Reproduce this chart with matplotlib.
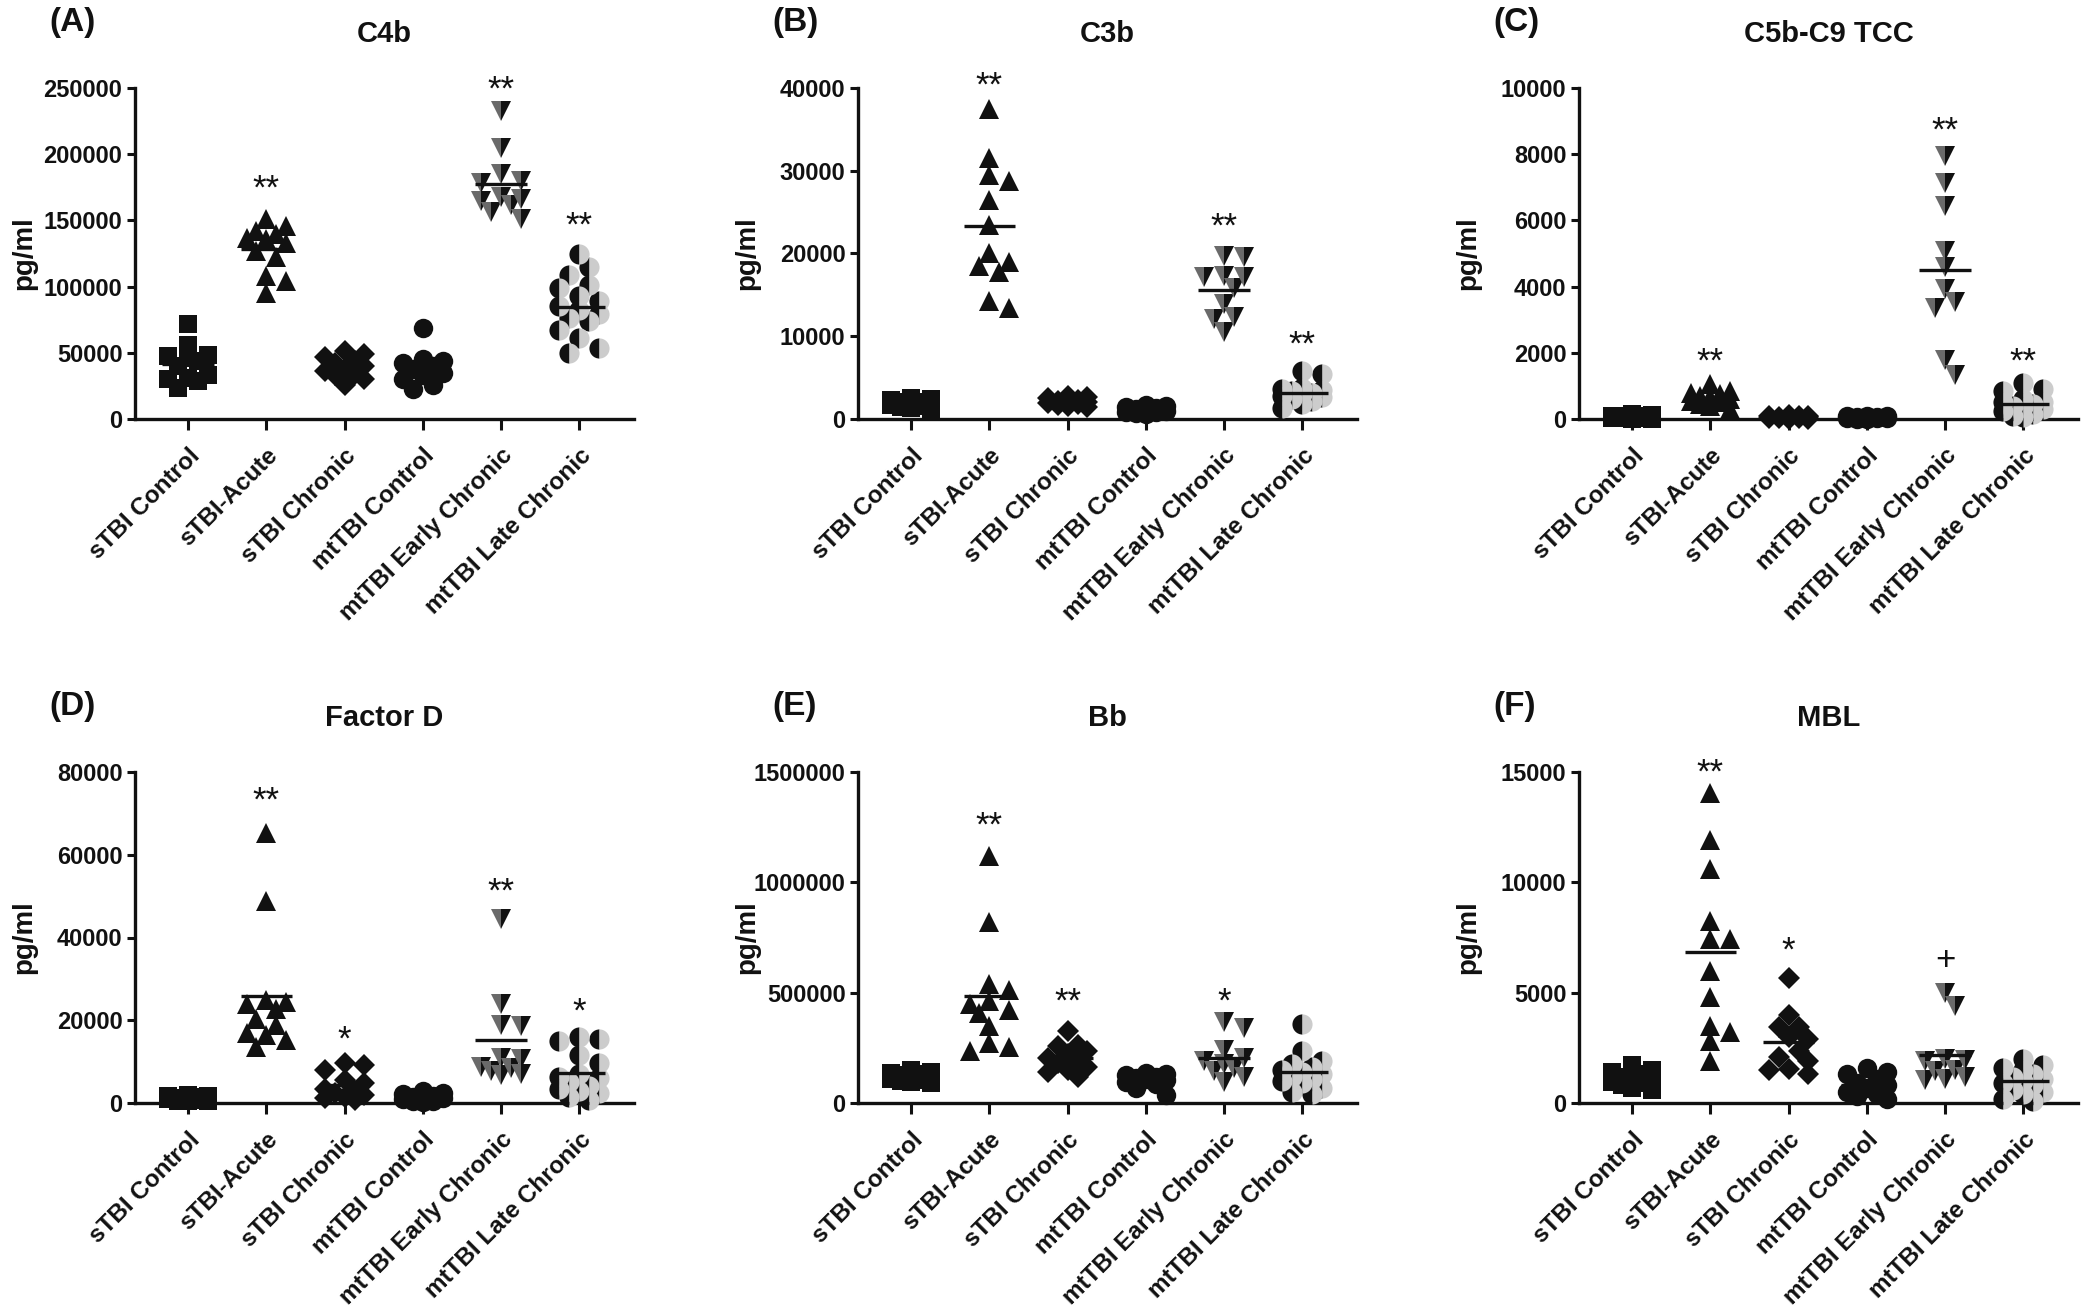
import numpy as np
import matplotlib
matplotlib.use("Agg")
import matplotlib.pyplot as plt

plt.rcParams["font.family"] = ["Liberation Sans", "DejaVu Sans"]

GROUPS = ["sTBI Control", "sTBI-Acute", "sTBI Chronic", "mtTBI Control",
          "mtTBI Early Chronic", "mtTBI Late Chronic"]

# ---- (A) C4b
C4B_VALUES = [
    [71500, 56000, 48500, 47500, 46000, 44000, 40000, 33000, 31000, 30000, 29000, 23500],
    [151000, 146000, 142000, 139500, 137000, 136000, 133000, 127000, 122000, 108000, 104000, 95000],
    [51000, 49000, 47000, 44000, 42000, 40000, 38000, 36000, 34000, 33000, 30000, 26000],
    [69000, 45000, 44000, 42000, 40000, 38000, 35000, 33000, 30000, 26000, 23000],
    [233000, 205000, 185000, 180000, 178000, 168000, 166000, 165000, 162000, 156000, 151000],
    [125000, 115000, 109000, 101000, 99000, 93000, 89000, 85000, 82000, 79000, 76000, 74000,
     67000, 61000, 54000, 50000],
]
C4B_STARS = ["", "**", "", "", "**", "**"]
C4B_STAR_Y = [0, 173600, 0, 0, 248500, 145800]

# ---- (B) C3b
C3B_VALUES = [
    [2500, 2400, 2300, 2100, 2000, 1900, 1800, 1700, 1600, 1500, 1300, 1200],
    [37500, 31500, 29500, 28800, 26500, 23500, 20000, 19000, 18500, 17800, 14200, 13400],
    [2800, 2600, 2500, 2300, 2200, 2100, 2000, 1900, 1800, 1700, 1600, 1400],
    [1700, 1600, 1400, 1300, 1200, 1100, 1000, 900, 800, 700, 600],
    [19700, 19600, 17300, 17200, 17100, 15800, 13900, 12300, 12100, 10500],
    [5800, 5400, 3700, 3600, 3500, 3400, 3200, 3000, 2800, 2600, 2400, 2200, 1800, 1300],
]
C3B_STARS = ["", "**", "", "", "**", "**"]
C3B_STAR_Y = [0, 40200, 0, 0, 23200, 8900]

# ---- (C) C5b-C9 TCC
TCC_VALUES = [
    [150, 120, 100, 90, 80, 60, 50, 40, 30, 20, 10, 0],
    [1050, 850, 800, 750, 700, 650, 600, 550, 500, 450, 400, 300],
    [120, 100, 90, 80, 70, 60, 50, 40, 30, 20, 10, 5],
    [100, 90, 80, 70, 60, 50, 40, 30, 20, 10, 0],
    [7950, 7140, 6440, 5090, 4590, 3940, 3540, 3340, 1780, 1330],
    [1100, 900, 850, 600, 500, 500, 450, 400, 350, 300, 250, 150, 100, 50],
]
TCC_STARS = ["", "**", "", "", "**", "**"]
TCC_STAR_Y = [0, 1730, 0, 0, 8700, 1730]

# ---- (D) Factor D
FD_VALUES = [
    [2000, 1800, 1600, 1400, 1200, 1100, 1000, 900, 800, 600, 500, 400],
    [65300, 48900, 24800, 24400, 24000, 22800, 20400, 18800, 16800, 16400, 15200, 13600],
    [9600, 9200, 8000, 5500, 4800, 3500, 3000, 2500, 2000, 1500, 1200, 800],
    [2800, 2500, 2200, 1800, 1500, 1300, 1100, 900, 600, 400, 200],
    [44500, 24000, 18800, 18700, 10900, 10700, 8600, 8400, 7800, 7000, 6800],
    [16000, 15400, 15000, 11600, 9600, 7000, 6200, 6000, 5000, 4000, 3500, 3000, 2500,
     1500, 800],
]
FD_STARS = ["", "**", "*", "", "**", "*"]
FD_STAR_Y = [0, 73000, 15200, 0, 50900, 22000]

# ---- (E) Bb
BB_VALUES = [
    [150000, 140000, 135000, 130000, 125000, 120000, 115000, 110000, 105000, 100000, 95000, 90000],
    [1120000, 820000, 540000, 510000, 460000, 450000, 420000, 410000, 350000, 270000, 255000,
     235000],
    [325000, 265000, 260000, 235000, 220000, 205000, 195000, 180000, 165000, 150000, 140000,
     120000],
    [135000, 130000, 125000, 120000, 115000, 110000, 105000, 95000, 85000, 70000, 35000],
    [365000, 340000, 240000, 205000, 190000, 175000, 160000, 145000, 120000, 95000],
    [360000, 235000, 190000, 175000, 165000, 150000, 140000, 130000, 120000, 110000, 100000,
     90000, 70000, 50000, 40000],
]
BB_STARS = ["", "**", "**", "", "*", ""]
BB_STAR_Y = [0, 1255000, 458000, 0, 458000, 0]

# ---- (F) MBL
MBL_VALUES = [
    [1700, 1500, 1400, 1300, 1200, 1100, 1000, 950, 900, 800, 700, 600],
    [14050, 11900, 10600, 8270, 7440, 7440, 6000, 4800, 3500, 3200, 2800, 1900],
    [5650, 4000, 3450, 3450, 3000, 2900, 2350, 2100, 1900, 1550, 1500, 1300],
    [1600, 1400, 1300, 1100, 900, 800, 700, 500, 400, 300, 200],
    [5000, 4400, 2000, 1950, 1900, 1500, 1450, 1200, 1100, 1050],
    [2000, 1700, 1600, 1500, 1300, 1200, 1100, 1000, 900, 800, 600, 500, 400, 200, 100],
]
MBL_STARS = ["", "**", "*", "", "+", ""]
MBL_STAR_Y = [0, 14950, 6900, 0, 6460, 0]

PANELS = [
    ("(A)", "C4b", C4B_VALUES, C4B_STARS, C4B_STAR_Y, 250000, 50000),
    ("(B)", "C3b", C3B_VALUES, C3B_STARS, C3B_STAR_Y, 40000, 10000),
    ("(C)", "C5b-C9 TCC", TCC_VALUES, TCC_STARS, TCC_STAR_Y, 10000, 2000),
    ("(D)", "Factor D", FD_VALUES, FD_STARS, FD_STAR_Y, 80000, 20000),
    ("(E)", "Bb", BB_VALUES, BB_STARS, BB_STAR_Y, 1500000, 500000),
    ("(F)", "MBL", MBL_VALUES, MBL_STARS, MBL_STAR_Y, 15000, 5000),
]

MARKERS = [
    dict(marker="s", markersize=12.5, markerfacecolor="#111111"),
    dict(marker="^", markersize=14, markerfacecolor="#111111"),
    dict(marker="D", markersize=11, markerfacecolor="#111111"),
    dict(marker="o", markersize=14, markerfacecolor="#111111"),
    dict(marker="v", markersize=14, markerfacecolor="#111111",
         markerfacecoloralt="#6a6a6a", fillstyle="right"),
    dict(marker="o", markersize=14.5, markerfacecolor="#111111",
         markerfacecoloralt="#cccccc", fillstyle="left"),
]

FIG_W, FIG_H = 2087, 1311
COL_LEFT = [135, 858, 1579]
AX_W = 499
ROW_TOP = [88, 772]
AX_H = 331
XLIM = (-0.68, 5.70)


def swarm(vals, ymax, ax_h_px, cat_px, ms_px=18.0, max_off=28.0):
    """Spread points sideways so that close values do not pile up."""
    y = np.asarray(vals, dtype=float) / ymax * ax_h_px
    order = np.argsort(-y, kind="stable")
    step = ms_px * 0.55
    cands = [0.0]
    k = 1
    while k * step <= max_off:
        cands += [k * step, -k * step]
        k += 1
    placed = []
    offs = np.zeros(len(y))
    for i in order:
        best, best_d = 0.0, -1.0
        for c in cands:
            d = min([np.hypot(c - px, y[i] - py) for px, py in placed] or [1e9])
            if d >= ms_px * 0.85:
                best = c
                break
            if d > best_d:
                best, best_d = c, d
        placed.append((best, y[i]))
        offs[i] = best
    return offs / cat_px


fig = plt.figure(figsize=(FIG_W / 100, FIG_H / 100), dpi=100)

for n, (letter, title, values, stars, star_y, ymax, ystep) in enumerate(PANELS):
    row, col = divmod(n, 3)
    left = COL_LEFT[col]
    top = ROW_TOP[row]
    ax = fig.add_axes([left / FIG_W, 1 - (top + AX_H) / FIG_H, AX_W / FIG_W, AX_H / FIG_H])
    ax.set_xlim(*XLIM)
    ax.set_ylim(0, ymax)
    cat_px = AX_W / (XLIM[1] - XLIM[0])

    for g, vals in enumerate(values):
        offs = swarm(vals, ymax, AX_H, cat_px)
        ax.plot(g + offs, vals, linestyle="none", markeredgewidth=0,
                clip_on=False, zorder=3, **MARKERS[g])
        ax.hlines(np.mean(vals), g - 0.33, g + 0.33, color="#111111", lw=2.4, zorder=4)
        if stars[g]:
            ax.text(g, star_y[g], stars[g], ha="center", va="center", fontsize=25,
                    color="#111111", zorder=5)

    for side in ("top", "right"):
        ax.spines[side].set_visible(False)
    for side in ("left", "bottom"):
        ax.spines[side].set_linewidth(2.4)
        ax.spines[side].set_color("#111111")

    ticks = np.arange(0, ymax + ystep / 2, ystep)
    ax.set_yticks(ticks)
    ax.set_yticklabels([f"{int(t)}" for t in ticks])
    ax.set_xticks(range(len(GROUPS)))
    ax.set_xticklabels(GROUPS, rotation=45, ha="right", va="top", rotation_mode="anchor")
    ax.tick_params(axis="y", length=6, width=2.2, pad=3, labelsize=17, colors="#111111")
    ax.tick_params(axis="x", length=8, width=2.2, pad=10, labelsize=17.5, colors="#111111")
    for lab in ax.get_xticklabels() + ax.get_yticklabels():
        lab.set_fontweight("bold")

    ax.text(-111 / AX_W, 0.5, "pg/ml", transform=ax.transAxes, rotation=90,
            ha="center", va="center", fontsize=20, fontweight="bold", color="#111111")

    fig.text((left + AX_W / 2) / FIG_W, 1 - (top - 54) / FIG_H, title, ha="center",
             va="center", fontsize=21, fontweight="bold", color="#111111")
    fig.text((left - 86) / FIG_W, 1 - (top - 66) / FIG_H, letter, ha="left",
             va="center", fontsize=24, fontweight="bold", color="#111111")

fig.savefig("out.png", dpi=100, facecolor="white")
